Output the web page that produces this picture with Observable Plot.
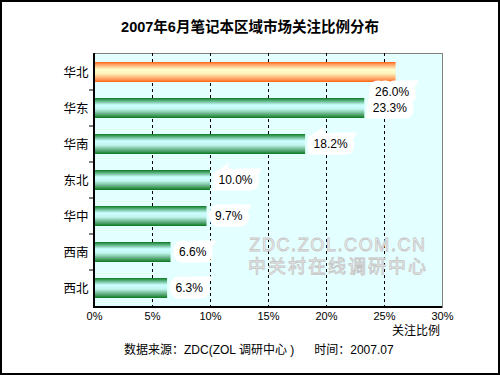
<!DOCTYPE html>
<html>
<head>
<meta charset="utf-8">
<script src="https://cdn.jsdelivr.net/npm/d3@7"></script>
<script src="https://cdn.jsdelivr.net/npm/@observablehq/plot@0.6"></script>
<style>
  html, body { margin: 0; padding: 0; background: #fff; }
  #wrap { position: relative; width: 500px; height: 375px; overflow: hidden; background: #fff;
          font-family: "Liberation Sans", "Noto Sans CJK SC", sans-serif; }
  #border { position: absolute; left: 0; top: 0; width: 500px; height: 375px; box-sizing: border-box;
            border: 2px solid #000; pointer-events: none; }
  #title { position: absolute; left: 0; top: 18px; width: 500px; text-align: center;
           font-weight: bold; font-size: 14.5px; line-height: 18px; color: #000; }
  #chart { position: absolute; left: 0; top: 40px; }
  #xlabel { position: absolute; left: 380px; width: 60px; top: 323px; text-align: right; font-size: 12px; line-height: 16px; }
  #footer { position: absolute; left: 124px; top: 342px; font-size: 12px; line-height: 16px; white-space: pre; }
  .wm { position: absolute; left: 238px; width: 200px; text-align: center; color: #fafafa;
        -webkit-text-stroke: 0.8px #c4c4c4; font-size: 18px; line-height: 20px; }
</style>
</head>
<body>
<div id="wrap">
  <svg width="0" height="0" style="position:absolute">
    <defs>
      <pattern id="dots" width="2" height="2" patternUnits="userSpaceOnUse">
        <rect width="2" height="2" fill="#ffffff"></rect>
        <rect width="1" height="1" fill="#c8ffff"></rect>
        <rect x="1" y="1" width="1" height="1" fill="#c8ffff"></rect>
      </pattern>
      <linearGradient id="gGreen" x1="0" y1="0" x2="0" y2="1">
        <stop offset="0" stop-color="#0b7a1c"></stop>
        <stop offset="0.12" stop-color="#4fa874"></stop>
        <stop offset="0.35" stop-color="#ccffff"></stop>
        <stop offset="0.55" stop-color="#c2f6f0"></stop>
        <stop offset="0.82" stop-color="#5aa878"></stop>
        <stop offset="1" stop-color="#0b7a1c"></stop>
      </linearGradient>
      <linearGradient id="gOrange" x1="0" y1="0" x2="0" y2="1">
        <stop offset="0" stop-color="#ff6410"></stop>
        <stop offset="0.12" stop-color="#ffa060"></stop>
        <stop offset="0.38" stop-color="#ffffcc"></stop>
        <stop offset="0.58" stop-color="#fff2bb"></stop>
        <stop offset="0.85" stop-color="#ffa060"></stop>
        <stop offset="1" stop-color="#ff6410"></stop>
      </linearGradient>
    </defs>
  </svg>
  <div id="title">2007年6月笔记本区域市场关注比例分布</div>
  <div id="chart"></div>
  <div class="wm" style="top:235px; letter-spacing:1.6px">ZDC.ZOL.COM.CN</div>
  <div class="wm" style="top:257px; letter-spacing:2px">中关村在线调研中心</div>
  <div id="xlabel">关注比例</div>
  <div id="footer">数据来源：ZDC(ZOL 调研中心 )      时间：2007.07</div>
  <div id="border"></div>
</div>
<script>
const regions = ["华北", "华东", "华南", "东北", "华中", "西南", "西北"];
const shares = [26.0, 23.3, 18.2, 10.0, 9.7, 6.6, 6.3];
const xTicks = [0, 5, 10, 15, 20, 25, 30];
const gridValues = [5, 10, 15, 20, 25];
const highlight = "华北";

const data = regions.map((r, i) => ({region: r, share: shares[i]}));
const fmt = d => d.share.toFixed(1) + "%";

const plot = Plot.plot({
  width: 500,
  height: 300,
  marginLeft: 94,
  marginRight: 58,
  marginTop: 13,
  marginBottom: 33,
  style: {fontFamily: "'Liberation Sans', 'Noto Sans CJK SC', sans-serif", background: "transparent", overflow: "visible"},
  x: {domain: [0, 30], ticks: xTicks, tickFormat: d => d + "%", tickSize: 0, tickPadding: 5, label: null},
  y: {domain: regions, paddingInner: 0.45, paddingOuter: 0.225, tickSize: 0, tickPadding: 6, label: null},
  marks: [
    Plot.frame({fill: "url(#dots)", stroke: "#808080"}),
    Plot.ruleX(gridValues, {stroke: "#000", strokeDasharray: "3,3", strokeWidth: 1}),
    Plot.barX(data.filter(d => d.region !== highlight), {x: "share", y: "region", fill: "url(#gGreen)"}),
    Plot.barX(data.filter(d => d.region === highlight), {x: "share", y: "region", fill: "url(#gOrange)"}),
    Plot.text(data.filter(d => d.region !== highlight), {
      x: "share", y: "region", text: fmt, textAnchor: "start", dx: 8,
      fill: "#000", stroke: "#fff", strokeWidth: 13, strokeLinejoin: "miter", fontSize: 12
    }),
    Plot.text(data.filter(d => d.region === highlight), {
      x: "share", y: "region", text: fmt, textAnchor: "start", dx: -21, dy: 20,
      fill: "#000", stroke: "#fff", strokeWidth: 13, strokeLinejoin: "miter", fontSize: 12
    })
  ]
});

d3.select(plot).selectAll("g[aria-label='x-axis tick label'], g[aria-label='x-axis']").attr("font-size", 11);
d3.select(plot).selectAll("g[aria-label='x-axis tick label'] text, g[aria-label='x-axis'] text").attr("font-size", 11);
d3.select(plot).selectAll("g[aria-label='y-axis tick label'], g[aria-label='y-axis']").attr("font-size", 12.5);
d3.select(plot).selectAll("g[aria-label='y-axis tick label'] text, g[aria-label='y-axis'] text").attr("font-size", 12.5);

// axis lines and band-boundary ticks, positioned with the plot's own scales
const xs = plot.scale("x"), ys = plot.scale("y");
const x0 = xs.apply(0), x1 = xs.apply(30);
const yTop = ys.range[0], yBot = ys.range[1];
const gap = (ys.step - ys.bandwidth) / 2;
const g = d3.select(plot).append("g").attr("stroke", "#000");
g.append("line").attr("x1", x0).attr("x2", x0).attr("y1", yTop).attr("y2", yBot + 1).attr("stroke-width", 2);
g.append("line").attr("x1", x0 - 1).attr("x2", x1).attr("y1", yBot).attr("y2", yBot).attr("stroke-width", 2);
regions.slice(1).forEach(r => {
  const yb = ys.apply(r) - gap;
  g.append("line").attr("x1", x0 - 5).attr("x2", x0).attr("y1", yb).attr("y2", yb).attr("stroke-width", 1);
});

document.getElementById("chart").appendChild(plot);
</script>
</body>
</html>
